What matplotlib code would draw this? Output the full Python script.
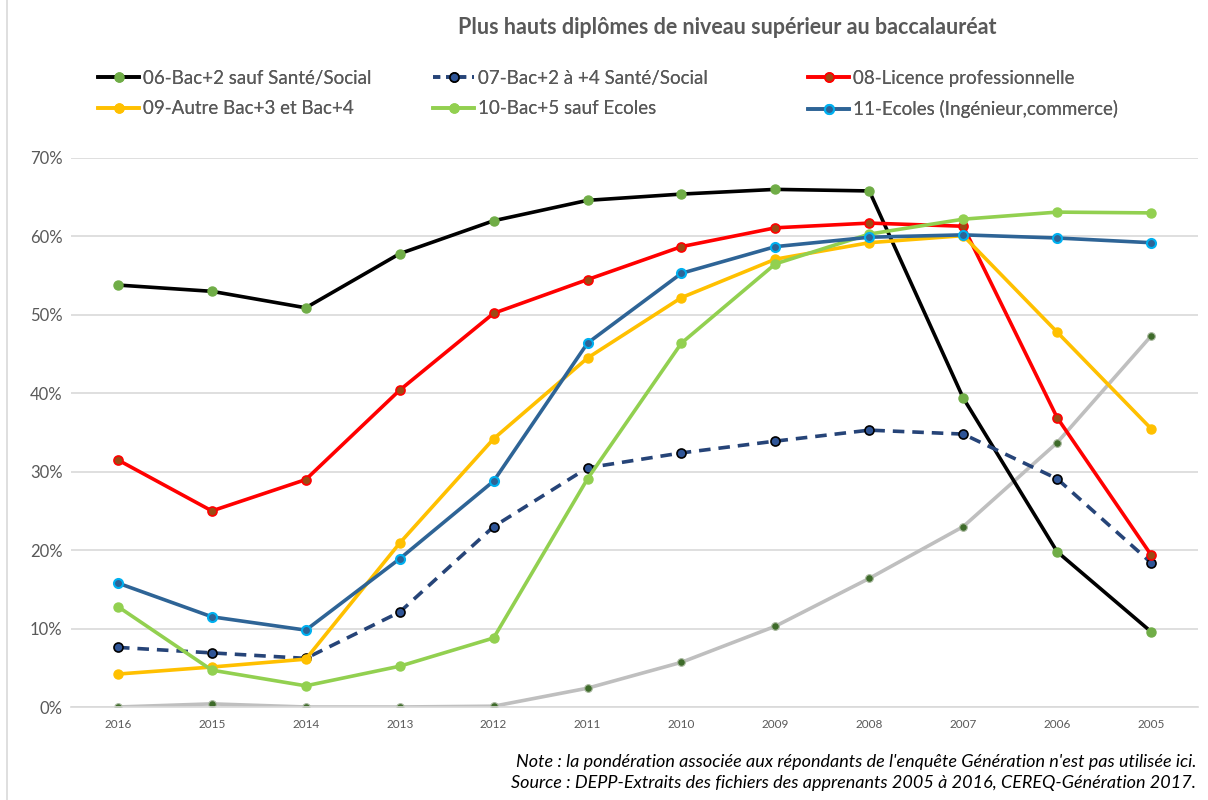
import matplotlib
matplotlib.use("Agg")
import matplotlib.pyplot as plt
from matplotlib.lines import Line2D
from matplotlib.ticker import PercentFormatter

plt.rcParams["font.family"] = ["Lato", "DejaVu Sans"]

years = ["2016", "2015", "2014", "2013", "2012", "2011",
         "2010", "2009", "2008", "2007", "2006", "2005"]

# valeurs en %
autre = [0.0, 0.4, 0.0, 0.0, 0.1, 2.4, 5.7, 10.3, 16.4, 23.0, 33.7, 47.3]
bac2_hors_sante = [53.8, 53.0, 50.9, 57.8, 62.0, 64.6, 65.4, 66.0, 65.8, 39.4, 19.8, 9.6]
bac2_4_sante = [7.6, 6.9, 6.2, 12.1, 23.0, 30.5, 32.4, 33.9, 35.3, 34.8, 29.1, 18.4]
licence_pro = [31.5, 25.0, 29.0, 40.4, 50.2, 54.5, 58.7, 61.1, 61.7, 61.3, 36.9, 19.4]
bac3_4 = [4.2, 5.1, 6.1, 20.9, 34.2, 44.5, 52.2, 57.1, 59.2, 60.1, 47.8, 35.5]
bac5_hors_ecoles = [12.8, 4.7, 2.7, 5.2, 8.8, 29.1, 46.4, 56.5, 60.3, 62.2, 63.1, 63.0]
ecoles = [15.8, 11.5, 9.8, 18.9, 28.8, 46.4, 55.3, 58.7, 59.9, 60.2, 59.8, 59.2]

labels = [
    "06-Bac+2 sauf Santé/Social",
    "07-Bac+2 à +4 Santé/Social",
    "08-Licence professionnelle",
    "09-Autre Bac+3 et Bac+4",
    "10-Bac+5 sauf Ecoles",
    "11-Ecoles (Ingénieur,commerce)",
]

gray_txt = "#595959"
lw = 2.6
ms = 6.5

fig = plt.figure(figsize=(12.08, 8), dpi=100)
ax = fig.add_axes([71 / 1208, 1 - 707 / 800, (1198 - 71) / 1208, (707 - 158) / 800])

x = list(range(len(years)))

ax.plot(x, autre, color="#BFBFBF", lw=lw, marker="o", ms=5.5,
        mfc="#3E6B2A", mec="#A9B89F", mew=0.8, zorder=2)
ax.plot(x, bac2_hors_sante, color="black", lw=lw, marker="o", ms=ms,
        mfc="#70AD47", mec="#70AD47", zorder=3)
ax.plot(x, bac2_4_sante, color="#264478", lw=lw, ls=(0, (3.2, 2.2)), marker="o", ms=ms,
        mfc="#2F5597", mec="black", mew=1.2, zorder=4)
ax.plot(x, licence_pro, color="#FF0000", lw=lw, marker="o", ms=ms,
        mfc="#9C4A14", mec="#FF0000", mew=1.2, zorder=5)
ax.plot(x, bac3_4, color="#FFC000", lw=lw, marker="o", ms=ms,
        mfc="#FFC000", mec="#FFC000", zorder=6)
ax.plot(x, bac5_hors_ecoles, color="#92D050", lw=lw, marker="o", ms=ms,
        mfc="#92D050", mec="#92D050", zorder=7)
ax.plot(x, ecoles, color="#2E6496", lw=lw, marker="o", ms=ms,
        mfc="#2E6496", mec="#00B0F0", mew=1.5, zorder=8)

ax.set_xlim(-0.5, len(years) - 0.5)
ax.set_ylim(0, 70)
ax.set_yticks(range(0, 71, 10))
ax.yaxis.set_major_formatter(PercentFormatter(decimals=0))
ax.set_xticks(x)
ax.set_xticklabels(years)
ax.grid(axis="y", color="#D9D9D9", lw=1.2)
ax.set_axisbelow(True)
for s in ["top", "right", "left"]:
    ax.spines[s].set_visible(False)
ax.spines["bottom"].set_color("#D9D9D9")
ax.spines["bottom"].set_linewidth(1.2)
ax.tick_params(axis="both", length=0, colors=gray_txt)
ax.tick_params(axis="y", labelsize=12, pad=6)
ax.tick_params(axis="x", labelsize=8.5, pad=9)

handles = [
    Line2D([], [], color="black", lw=lw, marker="o", ms=ms, mfc="#70AD47", mec="#70AD47"),
    Line2D([], [], color="#264478", lw=lw, ls=(0, (2, 1.6)), marker="o", ms=ms,
           mfc="#2F5597", mec="black", mew=1.2),
    Line2D([], [], color="#FF0000", lw=lw, marker="o", ms=ms, mfc="#9C4A14",
           mec="#FF0000", mew=1.2),
    Line2D([], [], color="#FFC000", lw=lw, marker="o", ms=ms, mfc="#FFC000", mec="#FFC000"),
    Line2D([], [], color="#92D050", lw=lw, marker="o", ms=ms, mfc="#92D050", mec="#92D050"),
    Line2D([], [], color="#2E6496", lw=lw, marker="o", ms=ms, mfc="#2E6496",
           mec="#00B0F0", mew=1.5),
]

# une légende par colonne, rangées lues de gauche à droite
col_x = [98, 433, 808]
for i, cx in enumerate(col_x):
    leg = fig.legend([handles[i], handles[i + 3]], [labels[i], labels[i + 3]],
                     loc="upper left", bbox_to_anchor=(cx / 1208, 1 - 70 / 800),
                     frameon=False, fontsize=13.5, handlelength=2.2,
                     handletextpad=0.2, labelspacing=0.7, borderpad=0,
                     borderaxespad=0, labelcolor=gray_txt)
    fig.add_artist(leg)

fig.text(727 / 1208, 1 - 28 / 800,
         "Plus hauts diplômes de niveau supérieur au baccalauréat",
         ha="center", va="center", fontsize=15.5, fontweight="bold", color=gray_txt)

fig.text(1196 / 1208, 1 - 762 / 800,
         "Note : la pondération associée aux répondants de l'enquête Génération n'est pas utilisée ici.",
         ha="right", va="center", fontsize=13, style="italic", color="black")
fig.text(1196 / 1208, 1 - 783 / 800,
         "Source : DEPP-Extraits des fichiers des apprenants 2005 à 2016, CEREQ-Génération 2017.",
         ha="right", va="center", fontsize=13, style="italic", color="black")

fig.add_artist(Line2D([7 / 1208, 7 / 1208], [0, 1], color="#D9D9D9", lw=1.2))

fig.savefig("out.png", dpi=100)
